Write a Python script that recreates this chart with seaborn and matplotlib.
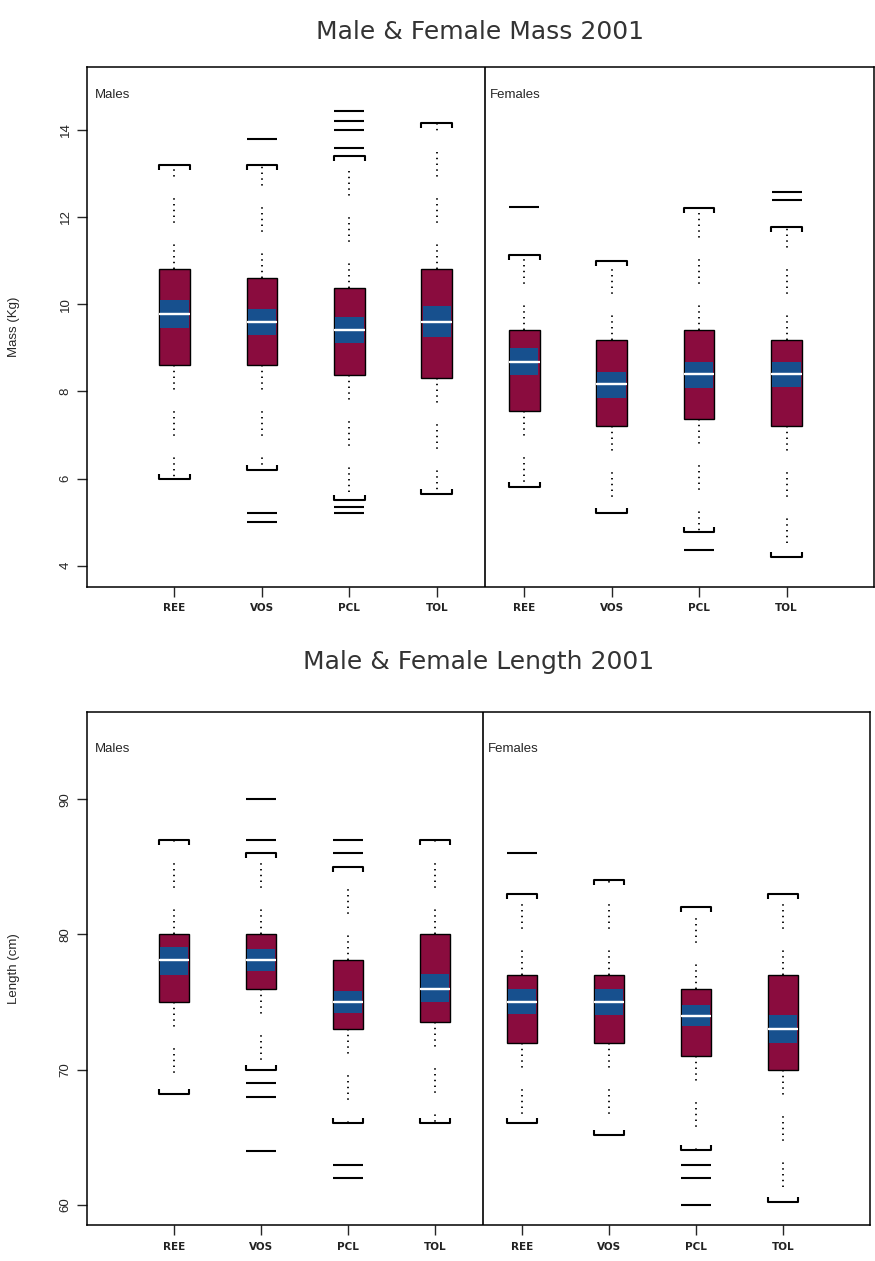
import numpy as np
import matplotlib
matplotlib.use("Agg")
import matplotlib.pyplot as plt
import seaborn as sns

# ---- data -------------------------------------------------------------
sites = ["REE", "VOS", "PCL", "TOL"]
sexes = ["Males", "Females"]
tick_labels = sites + sites

# Mass (Kg), 2001: Males REE..TOL then Females REE..TOL
mass_q1 = [8.6, 8.6, 8.37, 8.3, 7.55, 7.2, 7.37, 7.2]
mass_med = [9.77, 9.6, 9.41, 9.6, 8.67, 8.17, 8.4, 8.4]
mass_q3 = [10.8, 10.6, 10.37, 10.8, 9.41, 9.18, 9.41, 9.18]
mass_whislo = [6.0, 6.2, 5.5, 5.65, 5.8, 5.22, 4.78, 4.21]
mass_whishi = [13.2, 13.2, 13.4, 14.15, 11.13, 10.98, 12.2, 11.78]
mass_ci_lo = [9.46, 9.3, 9.1, 9.25, 8.38, 7.85, 8.07, 8.09]
mass_ci_hi = [10.1, 9.9, 9.7, 9.95, 9.0, 8.45, 8.68, 8.68]
mass_outliers = [[], [13.8, 5.2, 5.0], [14.42, 14.19, 14.0, 13.58, 5.35, 5.2], [],
                 [12.22], [], [4.36], [12.58, 12.39]]

# Length (cm), 2001
len_q1 = [75.0, 76.0, 73.0, 73.5, 72.0, 72.0, 71.0, 70.0]
len_med = [78.1, 78.1, 75.0, 76.0, 75.0, 75.0, 74.0, 73.0]
len_q3 = [80.0, 80.0, 78.1, 80.0, 77.0, 77.0, 76.0, 77.0]
len_whislo = [68.2, 70.0, 66.1, 66.1, 66.1, 65.2, 64.1, 60.2]
len_whishi = [87.0, 86.0, 85.0, 87.0, 83.0, 84.0, 82.0, 83.0]
len_ci_lo = [77.0, 77.3, 74.2, 75.0, 74.1, 74.05, 73.2, 71.96]
len_ci_hi = [79.1, 78.9, 75.8, 77.1, 76.0, 76.0, 74.8, 74.05]
len_outliers = [[], [90.0, 87.0, 69.0, 68.0, 64.0], [87.0, 86.0, 63.0, 62.0], [],
                [86.0], [], [63.0, 62.0, 60.0], []]

# ---- style ------------------------------------------------------------
sns.set_theme(style="ticks")
plt.rcParams["font.family"] = ["Liberation Sans", "DejaVu Sans"]
plt.rcParams["axes.linewidth"] = 1.1

BOX = "#8a0c3e"
BAND = "#17508e"
DOTTED = (0, (0.8, 2.4, 0.8, 2.4, 0.8, 2.4, 0.8, 2.4, 0.8, 12.0))
WIDTH = 0.35
POS = np.arange(1, 9)
W, H = 875, 1261

fig = plt.figure(figsize=(W / 100, H / 100), dpi=100)


def panel(rect, q1, med, q3, lo, hi, ci_lo, ci_hi, outl, ylim, yticks, ylabel,
          title, title_y, ytext):
    l, t, r, b = rect
    ax = fig.add_axes([l / W, 1 - b / H, (r - l) / W, (b - t) / H])
    ax.set_xlim(0, 9)
    ax.set_ylim(*ylim)
    px_per_unit = (r - l) / 9.0
    ms = WIDTH * px_per_unit * 72 / 100

    stats = [dict(med=m, q1=a, q3=c, whislo=w0, whishi=w1,
                  fliers=np.array(o, dtype=float), label=lab)
             for m, a, c, w0, w1, o, lab in zip(med, q1, q3, lo, hi, outl,
                                                 tick_labels)]
    art = ax.bxp(stats, positions=POS, widths=WIDTH, capwidths=WIDTH,
                 patch_artist=True, manage_ticks=False,
                 boxprops=dict(facecolor=BOX, edgecolor="black", linewidth=1.0),
                 medianprops=dict(color="white", linewidth=1.6),
                 whiskerprops=dict(color="black", linewidth=1.3,
                                   linestyle=DOTTED),
                 capprops=dict(color="black", linewidth=1.5),
                 flierprops=dict(marker="_", markersize=ms,
                                 markeredgewidth=1.5,
                                 markeredgecolor="black", linestyle="none"))
    # small legs on the whisker caps, pointing towards the box
    for i, cap in enumerate(art["caps"]):
        cap.set_marker(2 if i % 2 == 0 else 3)
        cap.set_markersize(3.5)
        cap.set_markeredgewidth(1.5)
        cap.set_markeredgecolor("black")

    # confidence band around the median
    band = [dict(med=m, q1=a, q3=c, whislo=a, whishi=c, fliers=np.array([]))
            for m, a, c in zip(med, ci_lo, ci_hi)]
    ax.bxp(band, positions=POS, widths=WIDTH * 0.93, patch_artist=True,
           manage_ticks=False, showcaps=False, showfliers=False,
           boxprops=dict(facecolor=BAND, edgecolor="none", linewidth=0),
           medianprops=dict(color="white", linewidth=1.6),
           whiskerprops=dict(linewidth=0))

    ax.axvline(4.55, color="black", linewidth=1.2)

    ax.set_xticks(POS)
    ax.set_xticklabels(tick_labels, fontsize=7.5, family="DejaVu Sans",
                       fontweight="semibold", color="#222222")
    ax.set_yticks(yticks)
    ax.set_yticklabels([str(v) for v in yticks], fontsize=9.5)
    ax.tick_params(axis="y", labelrotation=90, length=7, width=1.0, pad=4)
    ax.tick_params(axis="x", length=7, width=1.0, pad=5)
    for lab in ax.get_yticklabels():
        lab.set_verticalalignment("center")
    for s in ax.spines.values():
        s.set_visible(True)
        s.set_color("black")

    ax.set_ylabel(ylabel, fontsize=9.5)
    ax.yaxis.set_label_coords((20 - l) / (r - l), 0.5)
    ax.text(0.5, 1 + (t - title_y) / (b - t), title, transform=ax.transAxes,
            ha="center", va="center", fontsize=18, family="DejaVu Sans",
            color="#333333")

    ax.text(0.01, ytext, sexes[0], transform=ax.transAxes, fontsize=9.5,
            va="center", ha="left")
    ax.text(0.512, ytext, sexes[1], transform=ax.transAxes, fontsize=9.5,
            va="center", ha="left")
    return ax


panel((87, 67, 874, 586.7), mass_q1, mass_med, mass_q3, mass_whislo,
      mass_whishi, mass_ci_lo, mass_ci_hi, mass_outliers,
      (3.52, 15.44), [4, 6, 8, 10, 12, 14], "Mass (Kg)",
      "Male & Female Mass 2001", 32, 0.946)

panel((87, 712.3, 870, 1225), len_q1, len_med, len_q3, len_whislo,
      len_whishi, len_ci_lo, len_ci_hi, len_outliers,
      (58.53, 96.42), [60, 70, 80, 90], "Length (cm)",
      "Male & Female Length 2001", 662, 0.928)

fig.savefig("out.png", dpi=100, facecolor="white")
